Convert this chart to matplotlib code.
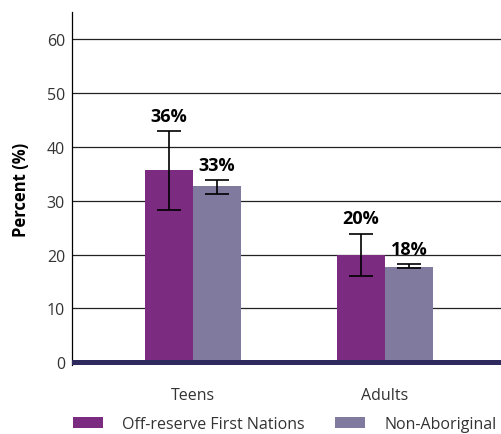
#!/usr/bin/env python

import matplotlib
matplotlib.use('Agg')
import matplotlib.pyplot as plt
import numpy as np

CATEGORIES = ['Teens', 'Adults']
SERIES_NAMES = ['Off-reserve First Nations', 'Non-Aboriginal']

# bar heights and error bar limits (percent)
FIRST_NATIONS = [35.7, 20.0]
FIRST_NATIONS_LOW = [28.3, 16.1]
FIRST_NATIONS_HIGH = [43.0, 23.9]

NON_ABORIGINAL = [32.8, 17.8]
NON_ABORIGINAL_LOW = [31.3, 17.5]
NON_ABORIGINAL_HIGH = [33.9, 18.3]

LABELS = [['36%', '20%'], ['33%', '18%']]

YTICKS = [0, 10, 20, 30, 40, 50, 60]

COLORS = ['#7b2c80', '#7f7a9e']


def main():
    plt.rcParams['font.family'] = ['Open Sans', 'DejaVu Sans']

    fig = plt.figure(figsize=(5.02, 4.35), dpi=100)
    ax = fig.add_axes([72 / 502, 1 - 366 / 435, 1 - 72 / 502, (366 - 13) / 435])

    x = np.arange(len(CATEGORIES))
    width = 0.25

    series = [
        (FIRST_NATIONS, FIRST_NATIONS_LOW, FIRST_NATIONS_HIGH),
        (NON_ABORIGINAL, NON_ABORIGINAL_LOW, NON_ABORIGINAL_HIGH),
    ]

    for i, (vals, low, high) in enumerate(series):
        pos = x + (i - 0.5) * width
        vals = np.array(vals)
        yerr = [vals - np.array(low), np.array(high) - vals]
        ax.bar(pos, vals, width, color=COLORS[i], label=SERIES_NAMES[i],
               zorder=3)
        ax.errorbar(pos, vals, yerr=yerr, fmt='none', ecolor='black',
                    elinewidth=1.2, capsize=8.6, capthick=1.2, zorder=4)
        for p, h, txt in zip(pos, high, LABELS[i]):
            ax.annotate(txt, (p, h), xytext=(0, 4.5), textcoords='offset points',
                        ha='center', va='bottom', fontsize=13,
                        fontweight='bold', color='black', zorder=5)

    ax.set_xlim(-0.63, 1.61)
    ax.set_ylim(-0.5, 65.1)
    ax.set_yticks(YTICKS)
    ax.set_xticks(x)
    ax.set_xticklabels(CATEGORIES)
    ax.tick_params(axis='both', length=0, labelsize=11.5, colors='#333333')
    ax.tick_params(axis='y', pad=5)
    ax.tick_params(axis='x', pad=16)

    for t in YTICKS[1:]:
        ax.axhline(t, color='#222222', linewidth=0.9, zorder=1)
    ax.axhline(0, color='#2e2a5e', linewidth=3.6, zorder=6)

    for side in ['top', 'right', 'bottom']:
        ax.spines[side].set_visible(False)
    ax.spines['left'].set_color('black')
    ax.spines['left'].set_linewidth(0.9)

    ax.set_ylabel('Percent (%)', fontsize=12, fontweight='bold', labelpad=12)

    fig.legend(loc='center left', bbox_to_anchor=(73 / 502, 1 - 425 / 435),
               ncol=2, frameon=False, fontsize=11.5, handlelength=1.85,
               handleheight=0.75, handletextpad=1.2, columnspacing=1.95,
               labelcolor='#333333', borderaxespad=0, borderpad=0)

    fig.savefig('out.png', dpi=100)


if __name__ == '__main__':
    main()
